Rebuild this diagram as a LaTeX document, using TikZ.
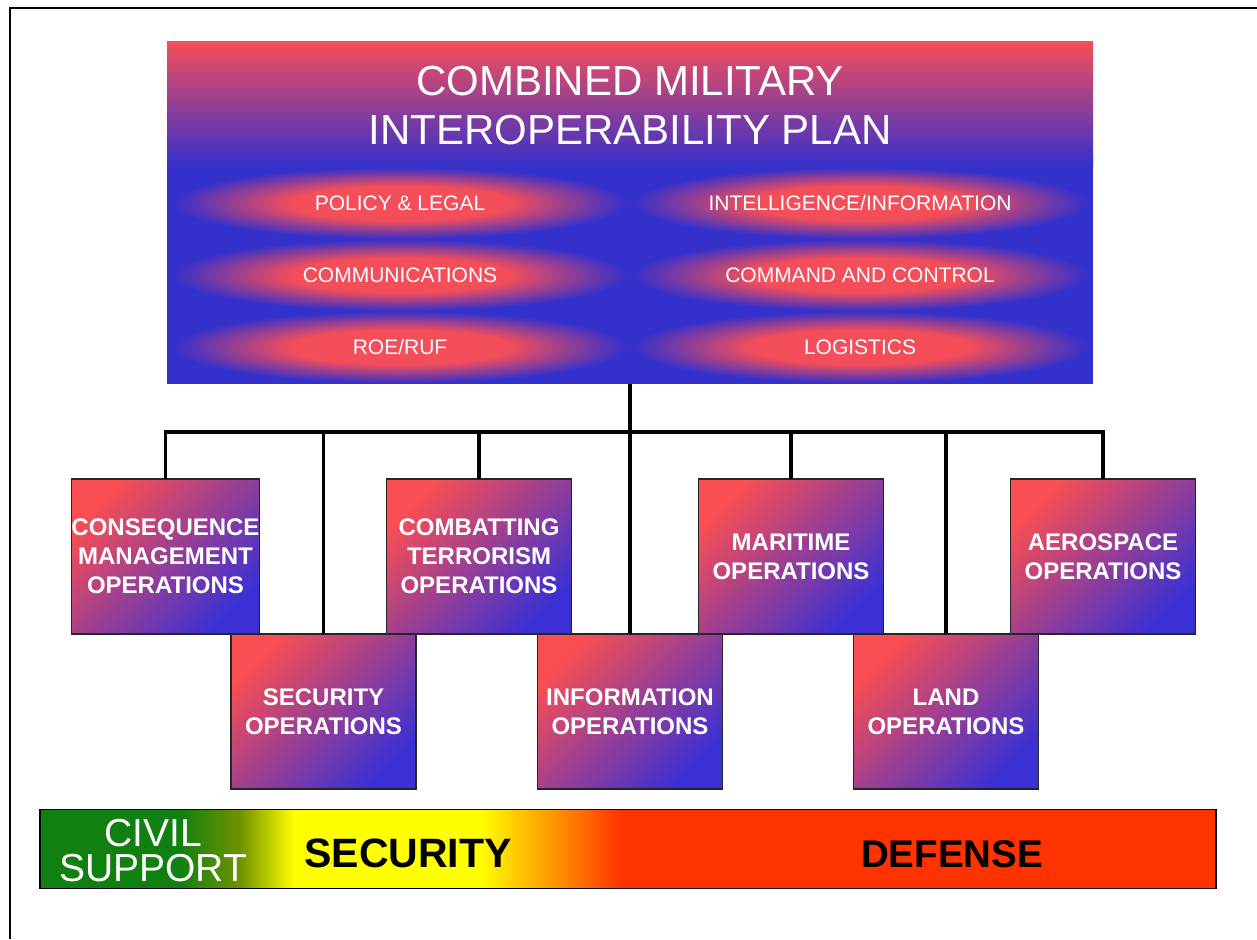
\documentclass[tikz,border=0pt]{standalone}
\usepackage{fontspec}
\setmainfont{Liberation Sans}
\usepackage{xcolor}
\usepackage{tikz}
\usetikzlibrary{shapes,positioning}

\definecolor{planred}{RGB}{244,78,90}
\definecolor{planblue}{RGB}{52,48,204}
\definecolor{opsred}{RGB}{250,78,82}
\definecolor{opsblue}{RGB}{58,48,212}
\definecolor{civilgreen}{RGB}{16,128,16}
\definecolor{civilolive}{RGB}{112,146,0}
\definecolor{secyellow}{RGB}{255,255,0}
\definecolor{defred}{RGB}{255,51,0}

\pgfdeclareradialshading{lens}{\pgfpointorigin}{color(0bp)=(planred); color(12bp)=(planred); color(25bp)=(planblue); color(50bp)=(planblue)}
\pgfdeclarehorizontalshading{spectrum}{100bp}{color(0bp)=(civilgreen); color(30.9bp)=(civilgreen); color(33.5bp)=(civilolive); color(35.8bp)=(secyellow); color(43.7bp)=(secyellow); color(49.7bp)=(defred); color(100bp)=(defred)}

\begin{document}
\begin{tikzpicture}[
    x=1pt, y=-1pt,
    plan/.style={rectangle, fill=planblue, minimum width=926pt, minimum height=342pt, inner sep=0pt, outer sep=0pt},
    heading/.style={align=center, text=white, inner sep=0pt, font=\fontsize{42}{49}\selectfont},
    cell/.style={rectangle, shade, shading=lens, minimum width=456pt, minimum height=72pt, inner sep=0pt, outer sep=0pt, text=white, text height=15pt, text depth=0pt, font=\fontsize{21}{25}\selectfont},
    ops/.style={rectangle, draw=black!85, line width=1.2pt, top color=opsred, bottom color=opsblue, shading angle=45, minimum width=185pt, minimum height=155pt, inner sep=0pt, outer sep=0pt, align=center, text=white, font=\bfseries\fontsize{24}{29}\selectfont},
    link/.style={line width=3.5pt},
    spectrumbar/.style={rectangle, draw, line width=1.5pt, shade, shading=spectrum, minimum width=1176pt, minimum height=79pt, inner sep=0pt, outer sep=0pt},
    civil/.style={align=center, text=white, inner sep=0pt, font=\fontsize{39}{35}\selectfont},
    zone/.style={anchor=base, inner sep=0pt, font=\bfseries\fontsize{41}{48}\selectfont},
    frame/.style={line width=2.5pt}
]
\useasboundingbox (0,0) rectangle (1257,939);

% Page frame (top and left edge only)
\draw[frame] (1257,8) -| (10,939);

% Combined plan
\node[plan] (plan) at (630,213) {};
\shade[top color=planred, bottom color=planblue] (plan.north west) rectangle ([yshift=-125pt]plan.north east);
\node[heading] (heading) at (630,105.5) {COMBINED MILITARY\\INTEROPERABILITY PLAN};

% Plan areas - left column
\node[cell] (policy) at (400,203) {POLICY \& LEGAL};
\node[cell, below=0pt of policy] (comms) {COMMUNICATIONS};
\node[cell, below=0pt of comms] (roe) {ROE/RUF};

% Plan areas - right column
\node[cell] (intel) at (860,203) {INTELLIGENCE/INFORMATION};
\node[cell, below=0pt of intel] (c2) {COMMAND AND CONTROL};
\node[cell, below=0pt of c2] (logistics) {LOGISTICS};

% Operations - upper row
\node[ops] (cm-ops) at (165.5,556.5) {CONSEQUENCE\\MANAGEMENT\\OPERATIONS};
\node[ops, right=127pt of cm-ops] (ct-ops) {COMBATTING\\TERRORISM\\OPERATIONS};
\node[ops, right=127pt of ct-ops] (mar-ops) {MARITIME\\OPERATIONS};
\node[ops, right=127pt of mar-ops] (aero-ops) {AEROSPACE\\OPERATIONS};

% Operations - lower row
\node[ops, below right=0pt and -28.5pt of cm-ops] (sec-ops) {SECURITY\\OPERATIONS};
\node[ops] (info-ops) at (plan |- sec-ops) {INFORMATION\\OPERATIONS};
\node[ops, right=131pt of info-ops] (land-ops) {LAND\\OPERATIONS};

% Connections - plan to operations
\coordinate[below=48pt of plan] (hub);
\draw[link] (plan.south) -- (hub);
\foreach \n in {cm-ops,sec-ops,ct-ops,info-ops,mar-ops,land-ops,aero-ops}
    \draw[link] (hub) -| (\n.north);

% Spectrum of operations
\node[spectrumbar] (spectrum) at (628,849) {};
\node[civil] (civil) at (153,851) {CIVIL\\SUPPORT};
\node[zone] (security) at (408,867) {SECURITY};
\node[zone, font=\bfseries\fontsize{38.5}{46}\selectfont] (defense) at (952,867) {DEFENSE};

\end{tikzpicture}
\end{document}
